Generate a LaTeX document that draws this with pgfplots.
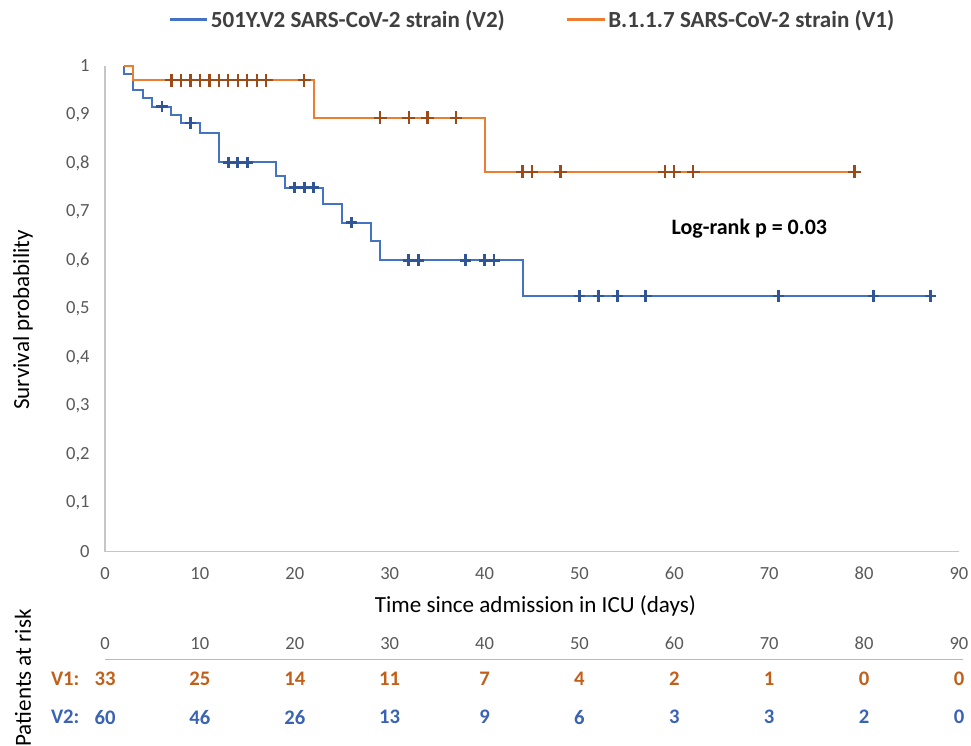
\documentclass[border=0pt]{standalone}
\usepackage{fontspec}
\setmainfont{Carlito}
\usepackage{pgfplots}
\pgfplotsset{compat=1.18}

\definecolor{vtwo}{HTML}{4472C4}
\definecolor{vone}{HTML}{ED7D31}
\definecolor{vtwomark}{HTML}{2F5597}
\definecolor{vonemark}{HTML}{9E4A16}
\definecolor{vonetxt}{HTML}{C0601A}
\definecolor{vtwotxt}{HTML}{3B63B3}
\definecolor{ticktxt}{HTML}{595959}

\begin{document}
\begin{tikzpicture}
\useasboundingbox (-78.75pt,-145pt) rectangle (649.5pt,413.8pt);

% main survival plot
\begin{axis}[
  at={(0pt,0pt)}, anchor=south west,
  width=640.5pt, height=364.5pt, scale only axis,
  xmin=0, xmax=90, ymin=0, ymax=1,
  xtick={0,10,...,90},
  ytick={0,0.1,0.2,0.3,0.4,0.5,0.6,0.7,0.8,0.9,1},
  axis lines*=left,
  axis line style={-, draw=gray!45, line width=0.8pt},
  major tick length=0pt,
  tick label style={font=\fontsize{13.9}{16}\selectfont, text=ticktxt},
  yticklabel style={anchor=east, xshift=-8pt},
  xticklabel style={anchor=north, yshift=-8pt},
  /pgf/number format/.cd, use comma, fixed, assume math mode=true, /pgfplots/.cd,
  xlabel={Time since admission in ICU (days)},
  ylabel={Survival probability},
  label style={font=\fontsize{17.3}{20}\selectfont},
  xlabel style={at={(axis description cs:0.504,-0.112)}, anchor=center},
  ylabel style={at={(axis description cs:-0.096,0.477)}, anchor=center},
  clip=false,
  legend columns=2,
  legend style={at={(axis description cs:0.501,1.095)}, anchor=center, draw=none,
    font=\bfseries\fontsize{17.3}{20}\selectfont, text=black!75,
    /tikz/every even column/.append style={column sep=44pt}},
  legend image code/.code={\draw[#1, line width=1.6pt] (0pt,0pt) -- (28pt,0pt);},
]
% V2 (501Y.V2) Kaplan-Meier steps
\addplot[const plot, vtwo, line width=1.5pt] coordinates {
  (2,1) (2,0.983) (3,0.950) (4,0.933) (5,0.916) (7,0.899) (8,0.882)
  (10,0.861) (12,0.801) (18,0.773) (19,0.749) (23,0.715) (25,0.677)
  (28,0.639) (29,0.600) (44,0.526) (87,0.526)
};
\addlegendentry{501Y.V2 SARS-CoV-2 strain (V2)}
% V1 (B.1.1.7) Kaplan-Meier steps
\addplot[const plot, vone, line width=1.5pt] coordinates {
  (2,1) (3,0.970) (22,0.893) (40,0.782) (79.5,0.782)
};
\addlegendentry{B.1.1.7 SARS-CoV-2 strain (V1)}
% censored observations
\addplot[forget plot, only marks, mark=+, mark size=4.3pt, line width=2.1pt, vtwomark] coordinates {
  (6,0.916) (9,0.882) (13,0.801) (14,0.801) (15,0.801)
  (20,0.749) (21,0.749) (22,0.749) (26,0.677)
  (32,0.600) (33,0.600) (38,0.600) (40,0.600) (41,0.600)
  (50,0.526) (52,0.526) (54,0.526) (57,0.526) (71,0.526) (81,0.526) (87,0.526)
};
\addplot[forget plot, only marks, mark=+, mark size=4.8pt, line width=1.7pt, vonemark] coordinates {
  (7,0.970) (8,0.970) (9,0.970) (10,0.970) (11,0.970) (12,0.970) (13,0.970)
  (14,0.970) (15,0.970) (16,0.970) (17,0.970) (21,0.970)
  (29,0.893) (32,0.893) (34,0.893) (37,0.893)
  (44,0.782) (45,0.782) (48,0.782) (59,0.782) (60,0.782) (62,0.782) (79,0.782)
};
\node[font=\bfseries\fontsize{16.5}{19}\selectfont] at (axis cs:67.9,0.664) {Log-rank p = 0.03};
\end{axis}

% patients at risk table
\begin{axis}[
  at={(0pt,-124pt)}, anchor=south west,
  width=640.5pt, height=57pt, scale only axis,
  xmin=0, xmax=90, ymin=0, ymax=2,
  hide axis, clip=false,
  point meta=explicit symbolic,
  nodes near coords,
  nodes near coords align=center,
]
\addplot[draw=none, nodes near coords style={font=\fontsize{13.9}{16}\selectfont, text=ticktxt, anchor=center}] coordinates {
  (0,1.947) [0] (10,1.947) [10] (20,1.947) [20] (30,1.947) [30] (40,1.947) [40]
  (50,1.947) [50] (60,1.947) [60] (70,1.947) [70] (80,1.947) [80] (90,1.947) [90]
};
\addplot[draw=none, nodes near coords style={font=\bfseries\fontsize{15.5}{18}\selectfont, text=vonetxt, anchor=center}] coordinates {
  (0,1) [33] (10,1) [25] (20,1) [14] (30,1) [11] (40,1) [7]
  (50,1) [4] (60,1) [2] (70,1) [1] (80,1) [0] (90,1) [0]
};
\addplot[draw=none, nodes near coords style={font=\bfseries\fontsize{15.5}{18}\selectfont, text=vtwotxt, anchor=center}] coordinates {
  (0,0) [60] (10,0) [46] (20,0) [26] (30,0) [13] (40,0) [9]
  (50,0) [6] (60,0) [3] (70,0) [3] (80,0) [2] (90,0) [0]
};
\draw[gray!55, line width=0.8pt] (axis cs:0,1.526) -- (axis cs:90.4,1.526);
\node[anchor=east, font=\bfseries\fontsize{15.5}{18}\selectfont, text=vonetxt] at (axis cs:-2.2,1) {V1:};
\node[anchor=east, font=\bfseries\fontsize{15.5}{18}\selectfont, text=vtwotxt] at (axis cs:-2.2,0) {V2:};
\node[rotate=90, font=\fontsize{17.3}{20}\selectfont] at (axis cs:-8.64,1.03) {Patients at risk};
\end{axis}
\end{tikzpicture}
\end{document}
